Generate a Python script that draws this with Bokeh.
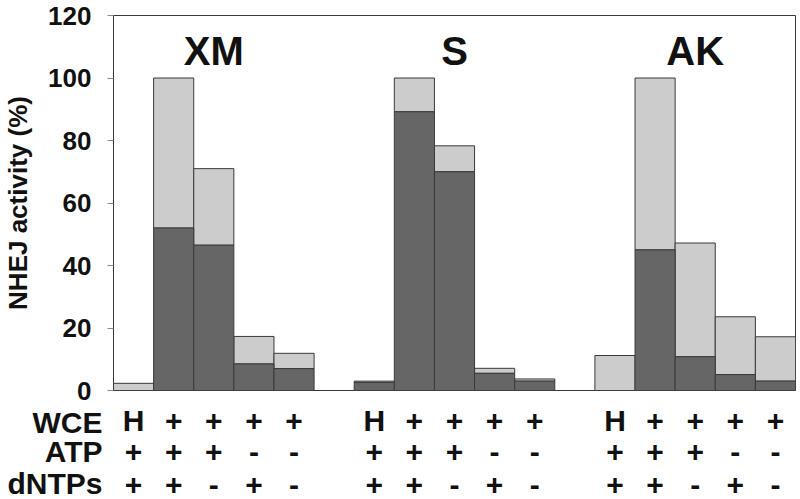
from bokeh.plotting import figure
from bokeh.layouts import column
from bokeh.models import Range1d, FixedTicker, ColumnDataSource
from bokeh.core.properties import value
from bokeh.embed import file_html
from bokeh.resources import INLINE

# ---- data ----
groups = ["XM", "S", "AK"]
dark_xm = [0.0, 52.0, 46.5, 8.5, 7.0]
total_xm = [2.3, 100.0, 71.0, 17.3, 11.9]
dark_s = [2.6, 89.2, 70.0, 5.5, 3.0]
total_s = [3.0, 100.0, 78.3, 7.1, 3.7]
dark_ak = [0.0, 45.0, 10.8, 5.1, 3.0]
total_ak = [11.2, 100.0, 47.2, 23.6, 17.2]
wce = ["H", "+", "+", "+", "+"]
atp = ["+", "+", "+", "-", "-"]
dntps = ["+", "+", "-", "+", "-"]
row_names = ["WCE", "ATP", "dNTPs"]
y_ticks = [0, 20, 40, 60, 80, 100, 120]

FONT = "Liberation Sans"
DARK = "#666666"
LIGHT = "#cccccc"
EDGE = "#3a3a3a"
TXT = "#111111"

W = 800
LEFT, RIGHT = 113, 5
TOP_H, BOT_H = 405, 94

darks = [dark_xm, dark_s, dark_ak]
totals = [total_xm, total_s, total_ak]

xs, dk, tt, w_l, a_l, d_l = [], [], [], [], [], []
for g in range(3):
    for i in range(5):
        xs.append(g * 6 + i)
        dk.append(darks[g][i])
        tt.append(totals[g][i])
        w_l.append(wce[i])
        a_l.append(atp[i])
        d_l.append(dntps[i])

src = ColumnDataSource(dict(x=xs, dark=dk, total=tt))
xr = Range1d(-0.5, 16.5)

# ---- main chart ----
p = figure(width=W, height=TOP_H, output_backend="svg", toolbar_location=None,
           x_range=xr, y_range=Range1d(0, 120),
           x_axis_location=None, min_border_left=LEFT, min_border_right=RIGHT,
           min_border_top=15, min_border_bottom=TOP_H - 390)
p.grid.visible = False
p.outline_line_color = EDGE
p.outline_line_width = 1

p.vbar(x="x", width=1.0, bottom="dark", top="total", source=src,
       fill_color=LIGHT, line_color=EDGE, line_width=1)
p.vbar(x="x", width=1.0, bottom=0, top="dark", source=src,
       fill_color=DARK, line_color=EDGE, line_width=1)

ax = p.yaxis[0]
ax.ticker = FixedTicker(ticks=y_ticks)
ax.minor_tick_line_color = None
ax.major_tick_out = 6
ax.major_tick_in = 0
ax.major_tick_line_color = "#888888"
ax.axis_line_color = EDGE
ax.major_label_text_font = FONT
ax.major_label_text_font_style = "bold"
ax.major_label_text_font_size = "26px"
ax.major_label_text_color = TXT
ax.major_label_standoff = 16
ax.axis_label = "NHEJ activity (%)"
ax.axis_label_text_font = FONT
ax.axis_label_text_font_style = "bold"
ax.axis_label_text_font_size = "26px"
ax.axis_label_text_color = TXT
ax.axis_label_standoff = 12

gsrc = ColumnDataSource(dict(x=[g * 6 + 2 for g in range(3)], y=[108.8] * 3, t=groups))
p.text(x="x", y="y", text="t", source=gsrc, text_font=value(FONT),
       text_font_style="bold", text_font_size="40px", text_color=TXT,
       text_align="center", text_baseline="middle")

# ---- condition table below ----
row_y = [15, 46, 79]
q = figure(width=W, height=BOT_H, output_backend="svg", toolbar_location=None,
           x_range=xr, y_range=Range1d(BOT_H, 0),
           x_axis_location=None, min_border_left=LEFT, min_border_right=RIGHT,
           min_border_top=0, min_border_bottom=0)
q.grid.visible = False
q.outline_line_color = None

qa = q.yaxis[0]
qa.ticker = FixedTicker(ticks=row_y)
qa.major_label_overrides = {row_y[i]: row_names[i] for i in range(3)}
qa.axis_line_color = None
qa.major_tick_line_color = None
qa.minor_tick_line_color = None
qa.major_tick_out = 0
qa.major_tick_in = 0
qa.major_label_standoff = 11
qa.major_label_text_font = FONT
qa.major_label_text_font_style = "bold"
qa.major_label_text_font_size = "30px"
qa.major_label_text_color = TXT

tsrc = ColumnDataSource(dict(x=xs * 3,
                             y=[row_y[0]] * len(xs) + [row_y[1]] * len(xs) + [row_y[2]] * len(xs),
                             t=w_l + a_l + d_l))
q.text(x="x", y="y", text="t", source=tsrc, text_font=value(FONT),
       text_font_style="bold", text_font_size="30px", text_color=TXT,
       text_align="center", text_baseline="middle")

layout = column(p, q, spacing=0)
open("out.html", "w").write(file_html(layout, INLINE))
